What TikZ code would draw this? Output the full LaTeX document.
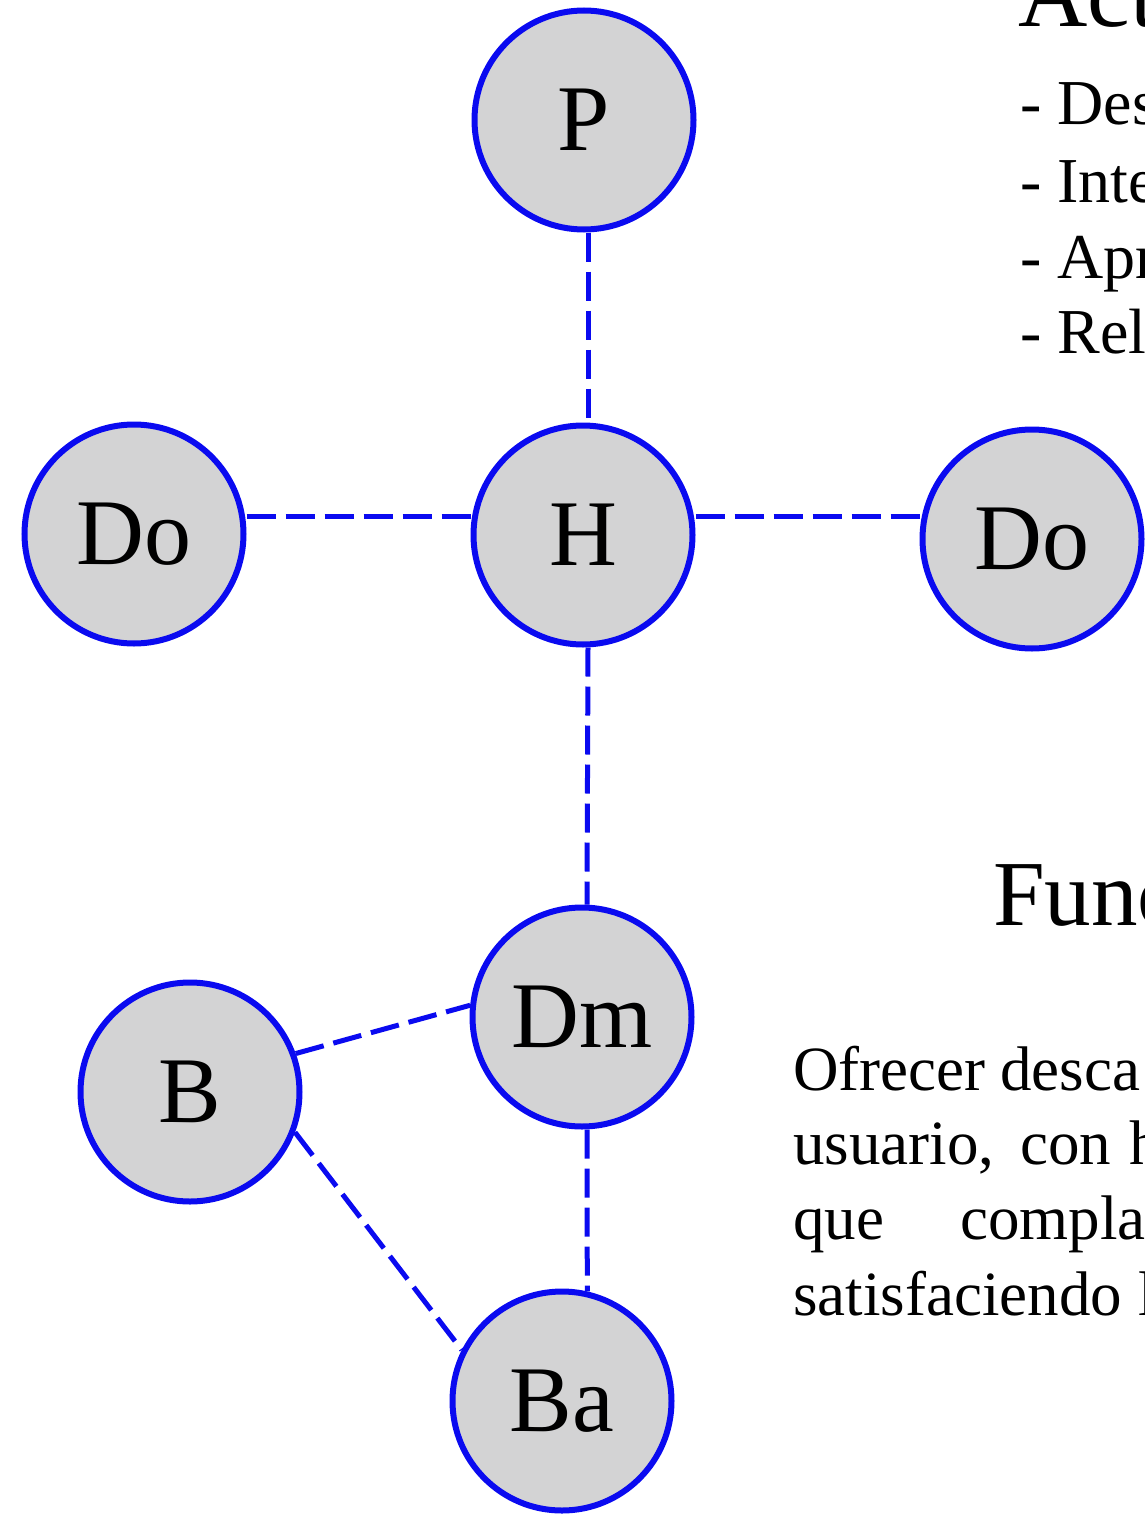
\documentclass[tikz,border=0pt]{standalone}
\usepackage{fontspec}
\setmainfont{Liberation Serif}
\usetikzlibrary{backgrounds}
\definecolor{nodeblue}{RGB}{10,10,240}
\definecolor{nodegray}{RGB}{211,211,212}
\begin{document}
\begin{tikzpicture}[x=1pt,y=-1pt,
  vnode/.style={circle,draw=nodeblue,fill=nodegray,line width=6pt,minimum size=219pt,inner sep=0pt,font=\fontsize{94}{94}\selectfont},
  edge/.style={draw=nodeblue,line width=5pt,dash pattern=on 29pt off 10pt},
  big/.style={anchor=base west,inner sep=0pt,font=\fontsize{93}{93}\selectfont},
  txt/.style={anchor=base west,inner sep=0pt,font=\fontsize{64}{64}\selectfont},
  ptxt/.style={anchor=base west,inner sep=0pt,font=\fontsize{63}{63}\selectfont}]
\useasboundingbox (0,0) rectangle (1145,1517);
\clip (0,0) rectangle (1145,1517);
\node[vnode] (P) at (584,120) {P};
\node[vnode] (H) at (583,535) {H};
\node[vnode] (DoL) at (134,534) {Do};
\node[vnode] (DoR) at (1032,539) {Do};
\node[vnode] (Dm) at (582,1017) {Dm};
\node[vnode] (B) at (190,1092) {B};
\node[vnode] (Ba) at (562,1401) {Ba};
\begin{scope}[on background layer]
\draw[edge] ([xshift=4pt]P.south) -- ([xshift=5pt]H.north);
\draw[edge] ([xshift=5pt]H.south) -- ([xshift=5pt]Dm.north);
\draw[edge] ([xshift=5pt]Dm.south) -- (Ba.77);
\draw[edge] ([yshift=18pt]DoL.east) -- ([yshift=19pt]H.west);
\draw[edge] ([yshift=19pt]H.east) -- ([yshift=23pt]DoR.west);
\draw[edge] (B.20) -- (Dm.174);
\draw[edge] (B.-21) -- (Ba.153);
\end{scope}
\node[big,font=\fontsize{96}{96}\selectfont] (t1) at (1018,27) {Act};
\node[txt] (l1) at (1020,125) {- Des};
\node[txt] (l2) at (1020,202) {- Inte};
\node[txt] (l3) at (1020,278) {- Apr};
\node[txt] (l4) at (1020,353) {- Rel};
\node[big] (t2) at (993,925) {Func};
\node[ptxt] (w1) at (793,1090) {Ofrecer};
\node[ptxt] (w2) at (1000,1090) {desca};
\node[ptxt] (w3) at (793,1164) {usuario,};
\node[ptxt] (w4) at (1020,1164) {con};
\node[ptxt] (w5) at (1129,1164) {h};
\node[ptxt] (w6) at (793,1239) {que};
\node[ptxt] (w7) at (960,1239) {compla};
\node[ptxt] (w8) at (793,1315) {satisfaciendo};
\node[ptxt] (w9) at (1138,1315) {l};
\end{tikzpicture}
\end{document}
